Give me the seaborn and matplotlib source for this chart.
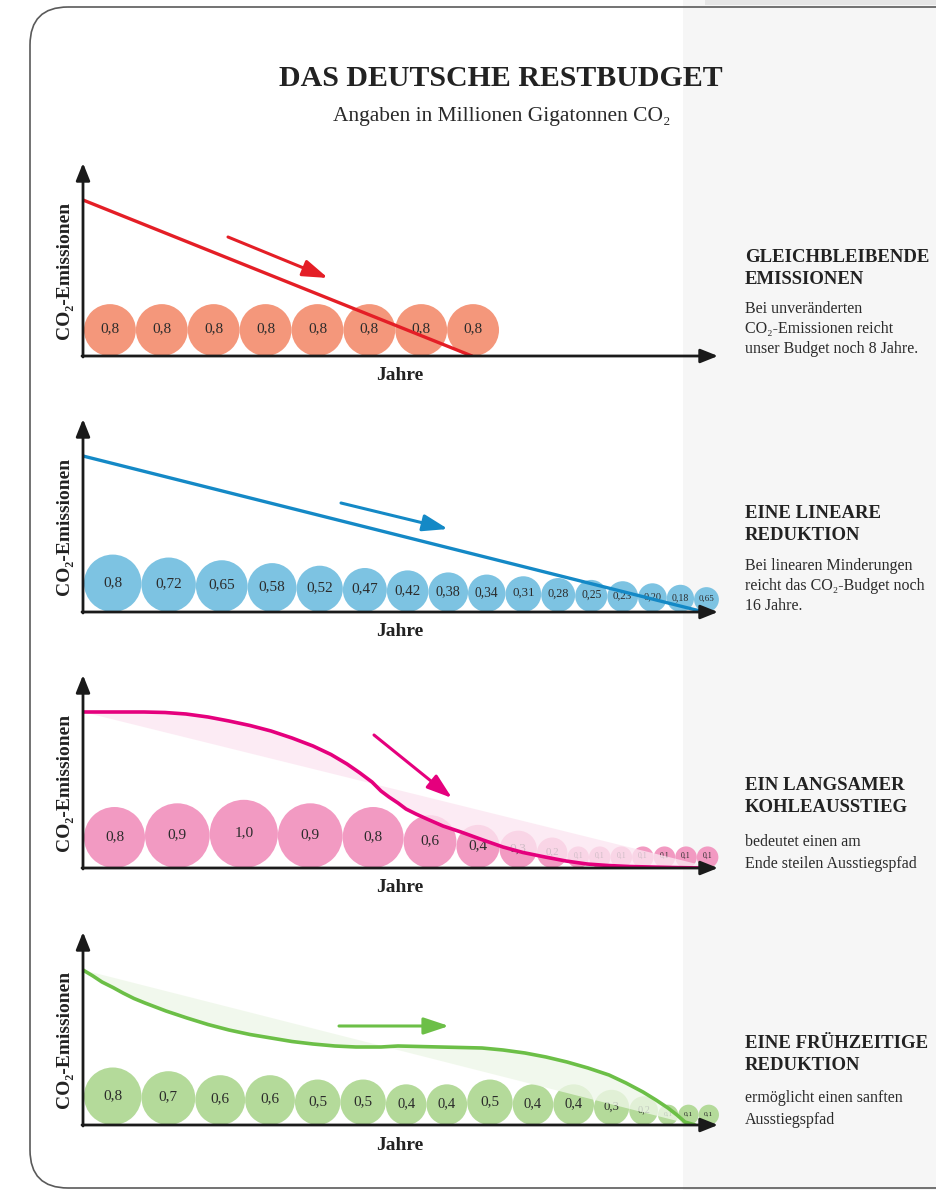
import numpy as np
import pandas as pd
import matplotlib
matplotlib.use("Agg")
import matplotlib.pyplot as plt
import seaborn as sns
from matplotlib.patches import FancyBboxPatch, Rectangle

sns.set_theme(style="white")
SERIF = ["Liberation Serif", "DejaVu Serif"]
plt.rcParams["font.family"] = SERIF

# ---------------- data ----------------
title = "DAS DEUTSCHE RESTBUDGET"
subtitle = "Angaben in Millionen Gigatonnen CO₂"
y_label = "CO₂-Emissionen"
x_label = "Jahre"

konstant_werte = [0.8, 0.8, 0.8, 0.8, 0.8, 0.8, 0.8, 0.8]
konstant_labels = ["0,8", "0,8", "0,8", "0,8", "0,8", "0,8", "0,8", "0,8"]

linear_werte = [0.8, 0.72, 0.65, 0.58, 0.52, 0.47, 0.42, 0.38, 0.34, 0.31,
                0.28, 0.25, 0.23, 0.20, 0.18, 0.15]
linear_labels = ["0,8", "0,72", "0,65", "0,58", "0,52", "0,47", "0,42", "0,38",
                 "0,34", "0,31", "0,28", "0,25", "0,23", "0,20", "0,18", "0,65"]

langsam_werte = [0.8, 0.9, 1.0, 0.9, 0.8, 0.6, 0.4, 0.3, 0.2, 0.1, 0.1, 0.1,
                 0.1, 0.1, 0.1, 0.1]
langsam_labels = ["0,8", "0,9", "1,0", "0,9", "0,8", "0,6", "0,4", "0,3", "0,2",
                  "0,1", "0,1", "0,1", "0,1", "0,1", "0,1", "0,1"]

frueh_werte = [0.8, 0.7, 0.6, 0.6, 0.5, 0.5, 0.4, 0.4, 0.5, 0.4, 0.4, 0.3, 0.2,
               0.1, 0.1, 0.1]
frueh_labels = ["0,8", "0,7", "0,6", "0,6", "0,5", "0,5", "0,4", "0,4", "0,5",
                "0,4", "0,4", "0,3", "0,2", "0,1", "0,1", "0,1"]

# emission paths (position along time axis, height)
konstant_pfad_x = [0, 389]
konstant_pfad_y = [156, 0]
linear_pfad_x = [0, 621]
linear_pfad_y = [156, 0]
langsam_pfad_x = [0, 30, 61, 82, 103, 125, 146, 167, 188, 209, 230, 248, 264,
                  277, 289, 298, 306, 315, 323, 333, 344, 360, 378, 400, 420,
                  440, 462, 483, 504, 525, 546, 589, 618]
langsam_pfad_y = [156, 156, 156, 155.5, 154, 151, 147, 142.5, 137, 130, 122,
                  113.5, 104, 95, 86, 77, 71, 65, 59, 54, 49, 42, 36, 28, 21,
                  15.5, 11, 7, 4, 2.5, 1.5, 0.5, 0]
langsam_ref_x = [0, 630]
langsam_ref_y = [156, 0]
frueh_pfad_x = [0, 10, 19, 30, 40, 51, 62, 83, 104, 125, 146, 167, 188, 209,
                230, 252, 273, 298, 315, 336, 357, 378, 399, 420, 442, 463,
                484, 505, 526, 543, 560, 573, 585, 594, 602, 612]
frueh_pfad_y = [155, 149, 143, 137.5, 132, 126.5, 122, 114, 107, 100.5, 95,
                90.5, 87, 83.5, 81, 79, 78, 78, 79, 78.5, 78, 77.5, 77, 75,
                72, 68, 63, 57, 50, 42, 33, 25, 17, 10, 3, 0]
frueh_ref_x = [0, 610]
frueh_ref_y = [155, 0]

headings = [["GLEICHBLEIBENDE", "EMISSIONEN"],
            ["EINE LINEARE", "REDUKTION"],
            ["EIN LANGSAMER", "KOHLEAUSSTIEG"],
            ["EINE FRÜHZEITIGE", "REDUKTION"]]
bodies = [["Bei unveränderten", "CO₂-Emissionen reicht", "unser Budget noch 8 Jahre."],
          ["Bei linearen Minderungen", "reicht das CO₂-Budget noch", "16 Jahre."],
          ["bedeutet einen am", "Ende steilen Ausstiegspfad"],
          ["ermöglicht einen sanften", "Ausstiegspfad"]]

# ---------------- layout ----------------
W, H = 937, 1190
fig = plt.figure(figsize=(W / 100, H / 100), dpi=100)
fig.patch.set_facecolor("white")

bg = fig.add_axes([0, 0, 1, 1])
bg.set_xlim(0, W)
bg.set_ylim(H, 0)
bg.set_axis_off()
bg.set_zorder(0)
bg.add_patch(Rectangle((683, 0), W - 683, H, fc="#F6F6F6", ec="none", zorder=0))
bg.add_patch(Rectangle((705, 0), W - 705, 5, fc="#E6E6E6", ec="none", zorder=0))
bg.add_patch(FancyBboxPatch((30, 7), 1100, 1181,
                            boxstyle="round,pad=0,rounding_size=38",
                            fill=False, ec="#5a5a5a", lw=1.2, zorder=1))


def px(x, y):
    return x / W, 1 - y / H


fig.text(*px(501, 78), title, ha="center", va="center", fontsize=21.5,
         fontweight="bold", color="#222222", family=SERIF)
fig.text(*px(502, 117), subtitle, ha="center", va="center", fontsize=15.5,
         color="#2a2a2a", family=SERIF)

AX_LEFT = 83
AX_W = 635
AX_H = 193

panels = [
    dict(axis_y=356, werte=konstant_werte, labels=konstant_labels, k=58,
         bubble="#F4977B", line="#E41E26",
         pfad=(konstant_pfad_x, konstant_pfad_y), ref=None,
         arrow=((145, 119), (245, 78))),
    dict(axis_y=612, werte=linear_werte, labels=linear_labels, k=64.2,
         bubble="#7DC3E2", line="#1489C6",
         pfad=(linear_pfad_x, linear_pfad_y), ref=None,
         arrow=((258, 109), (365, 83))),
    dict(axis_y=868, werte=langsam_werte, labels=langsam_labels, k=68.2,
         bubble="#F29AC2", line="#E5007D",
         pfad=(langsam_pfad_x, langsam_pfad_y), ref=(langsam_ref_x, langsam_ref_y),
         fill="#FCE6F1", arrow=((291, 133), (369, 70))),
    dict(axis_y=1125, werte=frueh_werte, labels=frueh_labels, k=64.3,
         bubble="#B4DA9A", line="#6CBF47",
         pfad=(frueh_pfad_x, frueh_pfad_y), ref=(frueh_ref_x, frueh_ref_y),
         fill="#EEF7E8", arrow=((256, 99), (366, 99))),
]

head_y = [(258, 279), (513, 535), (786, 808), (1044, 1066)]
body_y = [(309, 329, 349), (566, 586, 606), (842, 864), (1098, 1120)]

for i, p in enumerate(panels):
    ay = p["axis_y"]
    ax = fig.add_axes([AX_LEFT / W, 1 - ay / H, AX_W / W, AX_H / H])
    ax.set_zorder(2)
    ax.patch.set_alpha(0)

    werte = np.array(p["werte"], dtype=float)
    d = p["k"] * np.sqrt(werte)            # diameter in px (area ~ value)
    cx = np.cumsum(d) - d / 2 + 1
    cy = d / 2
    df = pd.DataFrame({"x": cx, "y": cy, "s": (d * 0.72) ** 2})
    sns.scatterplot(data=df, x="x", y="y", s=df["s"].values, color=p["bubble"],
                    linewidth=0, ax=ax, zorder=2, clip_on=False, legend=False)
    for xx, yy, dd, lab in zip(cx, cy, d, p["labels"]):
        ax.text(xx, yy + 1, lab, ha="center", va="center",
                fontsize=float(np.clip(0.26 * dd, 5.3, 11)),
                color="#2b2b2b", zorder=3, family=SERIF)

    if p["ref"] is not None:
        fx = list(p["pfad"][0]) + list(p["ref"][0])[::-1]
        fy = list(p["pfad"][1]) + list(p["ref"][1])[::-1]
        ax.fill(fx, fy, color=p["fill"], alpha=0.78, lw=0, zorder=4)
        lw = 2.6
    else:
        lw = 2.4
    sns.lineplot(x=p["pfad"][0], y=p["pfad"][1], sort=False, estimator=None,
                 color=p["line"], lw=lw, ax=ax, zorder=5)
    ax.set_xlim(0, AX_W)
    ax.set_ylim(0, AX_H)
    ax.set_axis_off()

    (x0, y0), (x1, y1) = p["arrow"]
    ax.annotate("", xy=(x1, y1), xytext=(x0, y0), annotation_clip=False,
                arrowprops=dict(arrowstyle="-|>,head_length=0.9,head_width=0.3",
                                color=p["line"], lw=2.2, mutation_scale=17,
                                shrinkA=0, shrinkB=0), zorder=6)
    # axes arrows
    ax.annotate("", xy=(0, AX_H), xytext=(0, -1), annotation_clip=False,
                arrowprops=dict(arrowstyle="-|>,head_length=0.75,head_width=0.3",
                                color="#1a1a1a", lw=2, mutation_scale=14,
                                shrinkA=0, shrinkB=0), zorder=7)
    ax.annotate("", xy=(AX_W, 0), xytext=(-1, 0), annotation_clip=False,
                arrowprops=dict(arrowstyle="-|>,head_length=0.75,head_width=0.3",
                                color="#1a1a1a", lw=2, mutation_scale=14,
                                shrinkA=0, shrinkB=0), zorder=7)

    fig.text(*px(65, ay - 86), y_label, rotation=90, ha="center", va="center",
             fontsize=14, fontweight="bold", color="#222222", family=SERIF)
    fig.text(*px(400, ay + 20), x_label, ha="center", va="center",
             fontsize=14, fontweight="bold", color="#222222", family=SERIF)

    for yy, t in zip(head_y[i], headings[i]):
        fig.text(*px(745, yy), t, ha="left", va="center", fontsize=13.5,
                 fontweight="bold", color="#222222", family=SERIF)
    for yy, t in zip(body_y[i], bodies[i]):
        fig.text(*px(745, yy), t, ha="left", va="center", fontsize=11.5,
                 color="#2b2b2b", family=SERIF)

fig.savefig("out.png", dpi=100, facecolor="white")
